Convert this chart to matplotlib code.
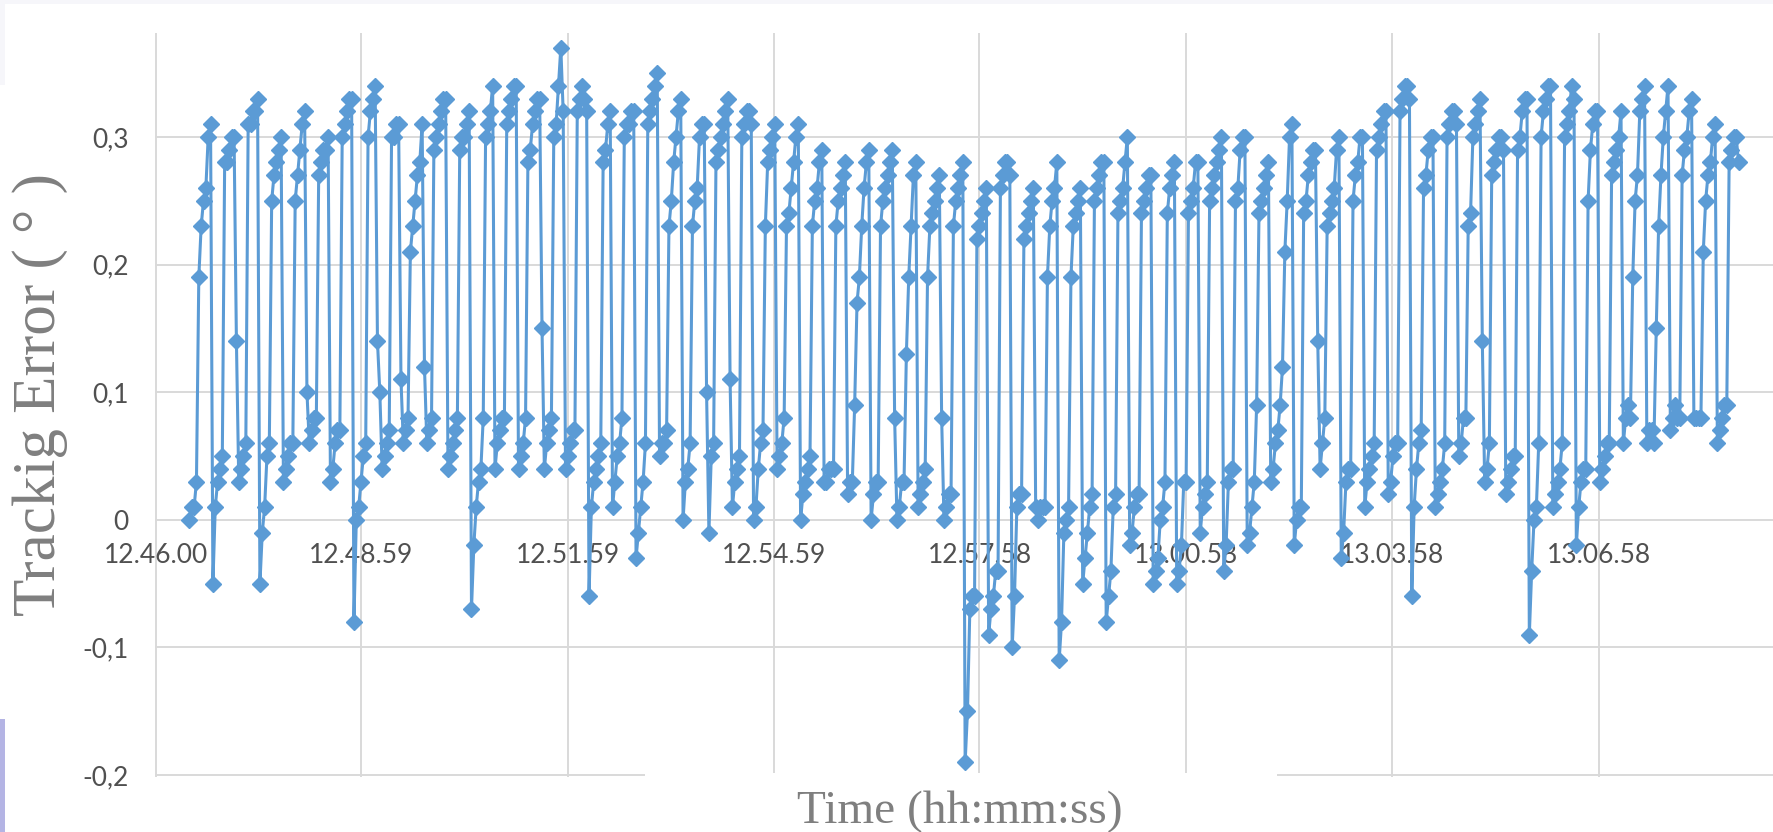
import matplotlib
matplotlib.use("Agg")
import matplotlib.pyplot as plt
from matplotlib.patches import Rectangle
import numpy as np

# ---------------- data ----------------
tick_seconds = [0, 179, 359, 539, 718, 898, 1078, 1258]
tick_labels = ["12.46.00", "12.48.59", "12.51.59", "12.54.59",
               "12.57.58", "13.00.58", "13.03.58", "13.06.58"]
y_ticks = [-0.2, -0.1, 0.0, 0.1, 0.2, 0.3]
y_tick_labels = ["-0,2", "-0,1", "0", "0,1", "0,2", "0,3"]

start_second = 29        # first sample after 12.46.00
sample_interval = 2.05   # seconds between samples

seg_1 = [0.00, 0.01, 0.01, 0.03, 0.19, 0.23, 0.25, 0.26, 0.30, 0.31,
         -0.05, 0.01, 0.03, 0.04, 0.05, 0.28, 0.28, 0.29, 0.30, 0.30,
         0.14, 0.03, 0.04, 0.05, 0.06, 0.31, 0.31, 0.32, 0.32, 0.33,
         -0.05, -0.01, 0.01, 0.05, 0.06, 0.25, 0.27, 0.28, 0.29, 0.30,
         0.03, 0.04, 0.05, 0.06, 0.06, 0.25, 0.27, 0.29, 0.31, 0.32,
         0.10, 0.06, 0.07, 0.08, 0.08, 0.27, 0.28, 0.29, 0.29, 0.30,
         0.03, 0.04, 0.06, 0.07, 0.07, 0.30, 0.31, 0.32, 0.33, 0.33,
         -0.08, 0.00, 0.01, 0.03, 0.05, 0.06, 0.30, 0.32, 0.33, 0.34]
seg_2 = [0.14, 0.10, 0.04, 0.05, 0.06, 0.07, 0.30, 0.30, 0.31, 0.31,
         0.11, 0.06, 0.07, 0.08, 0.21, 0.23, 0.25, 0.27, 0.28, 0.31,
         0.12, 0.06, 0.07, 0.08, 0.29, 0.30, 0.31, 0.32, 0.33, 0.33,
         0.04, 0.05, 0.06, 0.07, 0.08, 0.29, 0.30, 0.30, 0.31, 0.32,
         -0.07, -0.02, 0.01, 0.03, 0.04, 0.08, 0.30, 0.31, 0.32, 0.34,
         0.04, 0.06, 0.07, 0.08, 0.08, 0.31, 0.32, 0.33, 0.34, 0.34,
         0.04, 0.05, 0.06, 0.08, 0.28, 0.29, 0.31, 0.32, 0.33, 0.33,
         0.15, 0.04, 0.06, 0.07, 0.08, 0.30, 0.31, 0.34, 0.37, 0.32,
         0.04, 0.05, 0.06, 0.07, 0.07, 0.32, 0.33, 0.34, 0.33, 0.32]
seg_3 = [-0.06, 0.01, 0.03, 0.04, 0.05, 0.06, 0.28, 0.29, 0.31, 0.32,
         0.01, 0.03, 0.05, 0.06, 0.08, 0.30, 0.31, 0.31, 0.32, 0.32,
         -0.03, -0.01, 0.01, 0.03, 0.06, 0.31, 0.32, 0.33, 0.34, 0.35,
         0.05, 0.06, 0.06, 0.07, 0.23, 0.25, 0.28, 0.30, 0.32, 0.33,
         0.00, 0.03, 0.04, 0.06, 0.23, 0.25, 0.26, 0.30, 0.31, 0.31,
         0.10, -0.01, 0.05, 0.06, 0.28, 0.29, 0.30, 0.31, 0.32, 0.33,
         0.11, 0.01, 0.03, 0.04, 0.05, 0.30, 0.31, 0.32, 0.32, 0.31,
         0.00, 0.01, 0.04, 0.06, 0.07, 0.23, 0.28, 0.29, 0.30, 0.31]
seg_4 = [0.04, 0.05, 0.06, 0.08, 0.23, 0.24, 0.26, 0.28, 0.30, 0.31,
         0.00, 0.02, 0.03, 0.04, 0.05, 0.23, 0.25, 0.26, 0.28, 0.29,
         0.03, 0.03, 0.04, 0.04, 0.04, 0.23, 0.25, 0.26, 0.27, 0.28,
         0.02, 0.03, 0.03, 0.09, 0.17, 0.19, 0.23, 0.26, 0.28, 0.29,
         0.00, 0.02, 0.03, 0.03, 0.23, 0.25, 0.26, 0.27, 0.28, 0.29,
         0.08, 0.00, 0.01, 0.03, 0.03, 0.13, 0.19, 0.23, 0.27, 0.28,
         0.01, 0.02, 0.03, 0.04, 0.19, 0.23, 0.24, 0.25, 0.26, 0.27,
         0.08, 0.00, 0.01, 0.02, 0.02, 0.23, 0.25, 0.26, 0.27, 0.28]
seg_5 = [-0.19, -0.15, -0.07, -0.06, -0.06, 0.22, 0.23, 0.24, 0.25, 0.26,
         -0.09, -0.07, -0.06, -0.04, -0.04, 0.26, 0.27, 0.28, 0.28, 0.27,
         -0.10, -0.06, 0.01, 0.02, 0.02, 0.22, 0.23, 0.24, 0.25, 0.26,
         0.01, 0.00, 0.01, 0.01, 0.01, 0.19, 0.23, 0.25, 0.26, 0.28,
         -0.11, -0.08, -0.01, 0.00, 0.01, 0.19, 0.23, 0.24, 0.25, 0.26,
         -0.05, -0.03, -0.01, 0.01, 0.02, 0.25, 0.26, 0.27, 0.28, 0.28,
         -0.08, -0.06, -0.04, 0.01, 0.02, 0.24, 0.25, 0.26, 0.28, 0.30,
         -0.02, -0.01, 0.01, 0.02, 0.02, 0.24, 0.25, 0.26, 0.27, 0.27,
         -0.05, -0.04, -0.03, 0.00, 0.01, 0.03, 0.24, 0.26, 0.27, 0.28]
seg_6 = [-0.05, -0.04, -0.02, 0.03, 0.03, 0.24, 0.25, 0.26, 0.28, 0.28,
         -0.01, 0.01, 0.02, 0.03, 0.25, 0.26, 0.27, 0.28, 0.29, 0.30,
         -0.04, -0.02, 0.03, 0.04, 0.04, 0.25, 0.26, 0.29, 0.30, 0.30,
         -0.02, -0.01, 0.01, 0.03, 0.09, 0.24, 0.25, 0.26, 0.27, 0.28,
         0.03, 0.04, 0.06, 0.07, 0.09, 0.12, 0.21, 0.25, 0.30, 0.31,
         -0.02, 0.00, 0.01, 0.01, 0.24, 0.25, 0.27, 0.28, 0.29, 0.29,
         0.14, 0.04, 0.06, 0.08, 0.23, 0.24, 0.25, 0.26, 0.29, 0.30,
         -0.03, -0.01, 0.03, 0.04, 0.04, 0.25, 0.27, 0.28, 0.30, 0.30]
seg_7 = [0.01, 0.03, 0.04, 0.05, 0.06, 0.29, 0.30, 0.31, 0.32, 0.32,
         0.02, 0.03, 0.05, 0.06, 0.06, 0.32, 0.33, 0.34, 0.34, 0.33,
         -0.06, 0.01, 0.04, 0.06, 0.07, 0.26, 0.27, 0.29, 0.30, 0.30,
         0.01, 0.02, 0.03, 0.04, 0.06, 0.30, 0.31, 0.32, 0.32, 0.31,
         0.05, 0.06, 0.08, 0.08, 0.23, 0.24, 0.30, 0.31, 0.32, 0.33,
         0.14, 0.03, 0.04, 0.06, 0.27, 0.28, 0.29, 0.30, 0.30, 0.29,
         0.02, 0.03, 0.04, 0.05, 0.05, 0.29, 0.30, 0.32, 0.33, 0.33,
         -0.09, -0.04, 0.00, 0.01, 0.06, 0.30, 0.32, 0.33, 0.34, 0.34]
seg_8 = [0.01, 0.02, 0.03, 0.04, 0.06, 0.30, 0.31, 0.32, 0.34, 0.33,
         -0.02, 0.01, 0.03, 0.04, 0.04, 0.25, 0.29, 0.31, 0.32, 0.32,
         0.03, 0.04, 0.05, 0.06, 0.06, 0.27, 0.28, 0.29, 0.30, 0.32,
         0.06, 0.08, 0.09, 0.08, 0.19, 0.25, 0.27, 0.32, 0.33, 0.34,
         0.06, 0.07, 0.07, 0.06, 0.15, 0.23, 0.27, 0.30, 0.32, 0.34,
         0.07, 0.08, 0.09, 0.08, 0.08, 0.27, 0.29, 0.30, 0.32, 0.33,
         0.08, 0.08, 0.08, 0.08, 0.21, 0.25, 0.27, 0.28, 0.30, 0.31,
         0.06, 0.07, 0.08, 0.09, 0.09, 0.28, 0.29, 0.30, 0.30, 0.28]

values = seg_1 + seg_2 + seg_3 + seg_4 + seg_5 + seg_6 + seg_7 + seg_8
seconds = start_second + sample_interval * np.arange(len(values))

# ---------------- figure ----------------
W, H = 1773, 832
fig = plt.figure(figsize=(W / 100, H / 100), dpi=100)
fig.patch.set_facecolor("white")

ax = fig.add_axes([155 / W, 1 - 777 / H, 1 - 155 / W, (777 - 33) / H])
ax.set_facecolor("white")

blue = "#5b9bd5"
ax.plot(seconds, values, color=blue, lw=2.2, marker="D", ms=8.6,
        mfc=blue, mec=blue, mew=1.0, zorder=3)

ax.set_xlim(-1, 1410)
ax.set_ylim(-0.2015, 0.3814)
ax.set_xticks(tick_seconds)
ax.set_xticklabels(tick_labels)
ax.set_yticks(y_ticks)
ax.set_yticklabels(y_tick_labels)

ax.set_axisbelow(True)
ax.grid(True, color="#d9d9d9", lw=1.4)
for side in ["top", "right", "left"]:
    ax.spines[side].set_visible(False)
ax.spines["bottom"].set_position(("data", 0))
ax.spines["bottom"].set_color("none")

tick_font = "Lato"
ax.tick_params(axis="x", length=0, pad=17, labelsize=19, labelcolor="#505050")
ax.tick_params(axis="y", length=0, pad=19, labelsize=19, labelcolor="#505050")
for lab in ax.get_xticklabels() + ax.get_yticklabels():
    lab.set_fontfamily(tick_font)

# white gap over the lower border (as in the reference screenshot)
fig.patches.append(Rectangle((645 / W, 0), (1277 - 645) / W, 1 - 773 / H,
                             transform=fig.transFigure, facecolor="white",
                             edgecolor="none", zorder=1))
# screenshot edge decorations
fig.patches.append(Rectangle((0, 1 - 4 / H), 1, 4 / H, transform=fig.transFigure,
                             facecolor="#f6f6fa", edgecolor="none", zorder=1))
fig.patches.append(Rectangle((0, 1 - 85 / H), 5 / W, 85 / H, transform=fig.transFigure,
                             facecolor="#f6f6fa", edgecolor="none", zorder=1))
fig.patches.append(Rectangle((0, 0), 5 / W, (832 - 719) / H, transform=fig.transFigure,
                             facecolor="#b4b4e4", edgecolor="none", zorder=1))

serif = ["Liberation Serif", "DejaVu Serif"]
fig.text(960 / W, 1 - 812 / H, "Time (hh:mm:ss)", ha="center", va="center",
         fontsize=34, color="#7f7f7f", family=serif, zorder=5)
fig.text(40 / W, 1 - 395 / H, "Trackig Error ( \u00b0 )", ha="center", va="center",
         rotation=90, fontsize=44, color="#7f7f7f", family=serif, zorder=5)

fig.savefig("out.png", dpi=100)
